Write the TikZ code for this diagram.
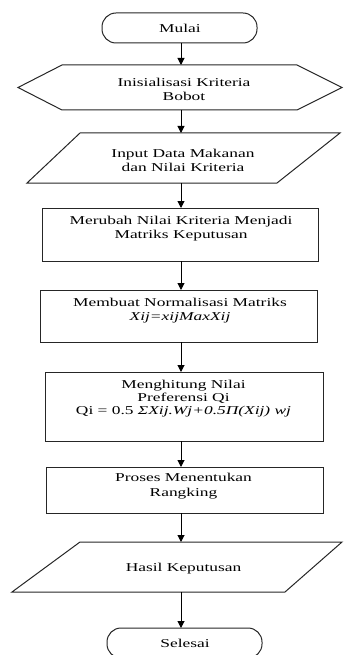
\documentclass[tikz,border=0pt]{standalone}
\usepackage{fontspec}
\setmainfont{Liberation Serif}[FakeStretch=1.45]
\usetikzlibrary{arrows.meta}
\begin{document}
\begin{tikzpicture}[x=1pt,y=-1pt,
  outline/.style={draw=black!85, line width=1pt},
  frame/.style={draw=none, inner sep=0pt, outer sep=0pt},
  procbox/.style={outline, inner sep=0pt, outer sep=0pt},
  term/.style={outline, inner sep=0pt, outer sep=0pt, rounded corners=14pt, minimum width=155pt, minimum height=30pt},
  lbl/.style={align=center, inner sep=0pt, font=\fontsize{12}{14.5}\selectfont},
  arr/.style={-{Triangle[length=7pt,width=7pt]}, line width=1pt, draw=black}]
\useasboundingbox (0,0) rectangle (343,655);
\coordinate (col) at (181,0);

% start
\node[term] (mulai) at (179.5,28) {};
\node[lbl] (tmulai) at (180,28) {Mulai};

% initialisation (hexagon)
\node[frame, minimum width=324pt, minimum height=45pt] (hex) at (180,87.5) {};
\draw[outline] (hex.west) -- ([xshift=44pt]hex.north west) -- ([xshift=-45pt]hex.north east)
  -- (hex.east) -- ([xshift=-45pt]hex.south east) -- ([xshift=44pt]hex.south west) -- cycle;
\node[lbl] (thex) at (184,89.5) {Inisialisasi Kriteria\\Bobot};

% input (parallelogram)
\node[frame, minimum width=313pt, minimum height=50pt] (in1) at (183.5,158) {};
\draw[outline] ([xshift=53pt]in1.north west) -- (in1.north east)
  -- ([xshift=-63pt]in1.south east) -- (in1.south west) -- cycle;
\node[lbl] (tin1) at (183,160.5) {Input Data Makanan\\dan Nilai Kriteria};

% process boxes
\node[procbox, minimum width=276pt, minimum height=53pt] (r1) at (180,234.5) {};
\node[lbl] (tr1) at (181,228.5) {Merubah Nilai Kriteria Menjadi\\Matriks Keputusan};

\node[procbox, minimum width=277pt, minimum height=52pt] (r2) at (178.5,316) {};
\node[lbl] (tr2) at (180,310.5) {Membuat Normalisasi Matriks\\\textit{Xij=xijMaxXij}};

\node[procbox, minimum width=278pt, minimum height=69pt] (r3) at (184,406.5) {};
\node[lbl, font=\fontsize{12}{12.8}\selectfont] (tr3) at (183.5,398.5) {Menghitung Nilai\\Preferensi Qi\\Qi = 0.5 \textit{ΣXij.Wj+0.5Π(Xij) wj}};

\node[procbox, minimum width=277pt, minimum height=46pt] (r4) at (184.5,490) {};
\node[lbl] (tr4) at (183.5,486) {Proses Menentukan\\Rangking};

% output (parallelogram)
\node[frame, minimum width=330pt, minimum height=50pt] (out) at (177,567) {};
\draw[outline] ([xshift=68pt]out.north west) -- (out.north east)
  -- ([xshift=-57pt]out.south east) -- (out.south west) -- cycle;
\node[lbl] (tout) at (183.5,569) {Hasil  Keputusan};

% end
\node[term] (selesai) at (184.5,643) {};
\node[lbl] (tselesai) at (185,643) {Selesai};

% connectors
\draw[arr] (mulai.south -| col) -- (hex.north -| col);
\draw[arr] (hex.south -| col) -- (in1.north -| col);
\draw[arr] (in1.south -| col) -- (r1.north -| col);
\draw[arr] (r1.south -| col) -- (r2.north -| col);
\draw[arr] (r2.south -| col) -- (r3.north -| col);
\draw[arr] (r3.south -| col) -- (r4.north -| col);
\draw[arr] (r4.south -| col) -- (out.north -| col);
\draw[arr] (out.south -| col) -- (selesai.north -| col);
\end{tikzpicture}
\end{document}
